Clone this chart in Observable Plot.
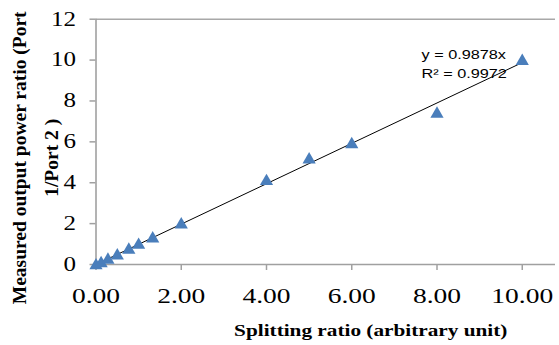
<!DOCTYPE html>
<html><head><meta charset="utf-8">
<script src="https://cdn.jsdelivr.net/npm/d3@7"></script>
<script src="https://cdn.jsdelivr.net/npm/@observablehq/plot@0.6"></script>
<style>body{margin:0;background:#fff} svg{display:block}</style>
</head><body><div id="chart"></div>
<script>
const splittingRatio = [0, 0.12, 0.28, 0.5, 0.77, 1.0, 1.33, 2.0, 4.0, 5.0, 6.0, 8.0, 10.0];
const measuredRatio  = [0, 0.1, 0.27, 0.48, 0.76, 1.0, 1.31, 2.0, 4.12, 5.18, 5.92, 7.42, 10.0];
const fitSlope = 0.9878;
const fitRange = [0, 10];
const xTicks = [0, 2, 4, 6, 8, 10];
const yTicks = [0, 2, 4, 6, 8, 10, 12];
const xLabel = "Splitting ratio (arbitrary unit)";
const yLabel = "Measured output power ratio (Port\n1/Port 2 )";
const fitEquation = "y = 0.9878x";
const fitR2 = "R² = 0.9972";

const points = splittingRatio.map((x, i) => ({x, y: measuredRatio[i]}));
const fit = fitRange.map(x => ({x, y: fitSlope * x}));
const gray = "#a0a0a0";

const chart = Plot.plot({
  width: 559, height: 345,
  marginLeft: 95.5, marginRight: 4, marginTop: 18.7, marginBottom: 81,
  style: {fontFamily: "Liberation Serif", background: "#fff", color: "#000"},
  x: {domain: [0, 10.78]},
  y: {domain: [0, 12]},
  marks: [
    Plot.ruleY([12], {stroke: "#a8a8a8", strokeWidth: 1.6}),
    Plot.axisY({ticks: yTicks, tickSize: 6, tickPadding: 14, fontSize: 20, stroke: gray, strokeWidth: 1.5, fill: "#000", label: null}),
    Plot.axisX({ticks: xTicks, tickFormat: d3.format(".2f"), tickSize: 6, tickPadding: 17, fontSize: 22, stroke: gray, strokeWidth: 1.5, fill: "#000", label: null}),
    Plot.ruleX([0], {stroke: gray, strokeWidth: 1.6}),
    Plot.ruleY([0], {stroke: gray, strokeWidth: 1.6}),
    Plot.line(fit, {x: "x", y: "y", stroke: "#000", strokeWidth: 1}),
    Plot.dot(points, {x: "x", y: "y", symbol: "triangle", r: 4.9, fill: "#4a7ebb", stroke: "none", dy: 1}),
    Plot.text([fitEquation], {frameAnchor: "top-right", textAnchor: "start", lineAnchor: "middle", dx: -134, dy: 36, fontFamily: "Liberation Sans", fontSize: 13, fill: "#000"}),
    Plot.text([fitR2], {frameAnchor: "top-right", textAnchor: "start", lineAnchor: "middle", dx: -134, dy: 55, fontFamily: "Liberation Sans", fontSize: 13, fill: "#000"}),
    Plot.text([xLabel], {frameAnchor: "bottom", textAnchor: "middle", lineAnchor: "middle", dx: 45, dy: 66, fontSize: 17, fontWeight: "bold", fill: "#000"}),
    Plot.text([yLabel], {frameAnchor: "left", rotate: -90, textAnchor: "middle", lineAnchor: "middle", lineHeight: 1.64, dx: -64.5, dy: 16, fontSize: 19.5, fontWeight: "bold", fill: "#000"})
  ]
});
document.getElementById("chart").appendChild(chart);
// horizontal stretch of the reference's glyphs
chart.querySelectorAll("text").forEach(t => {
  if (t.querySelector("tspan")) return;
  const w = t.getComputedTextLength();
  if (w > 0) {
    t.setAttribute("textLength", (w * 1.25).toFixed(2));
    t.setAttribute("lengthAdjust", "spacingAndGlyphs");
  }
});
</script>
</body></html>
